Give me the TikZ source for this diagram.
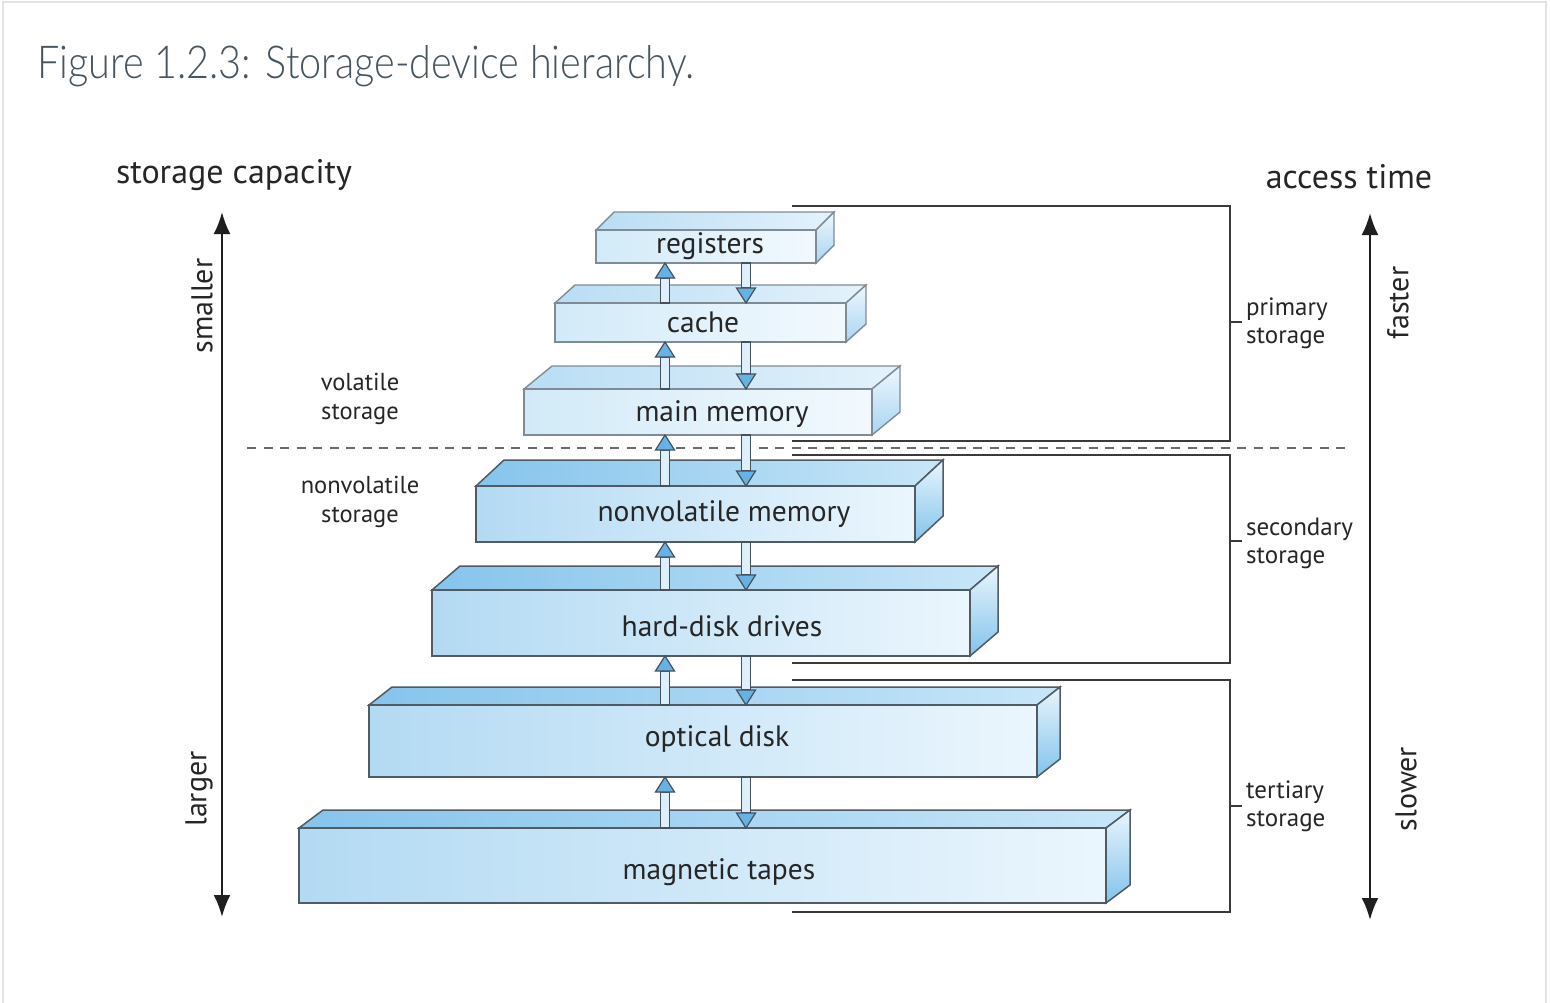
\documentclass[tikz,border=0pt]{standalone}
\usepackage{fontspec}
\setmainfont{PT Sans}
\newfontfamily\titlefont{Lato Light}
\usepackage{graphicx}
\usetikzlibrary{arrows.meta,calc}

\definecolor{txt}{HTML}{262626}
\definecolor{titlecol}{HTML}{46555F}
\definecolor{framecol}{HTML}{E4E4E4}
\definecolor{brk}{HTML}{3A3A3A}
\definecolor{dashcol}{HTML}{6A6A6A}
\definecolor{edgeL}{HTML}{7F8C95}
\definecolor{edgeD}{HTML}{505B63}
\definecolor{lfL}{HTML}{D2EAF8}
\definecolor{lfR}{HTML}{F2F9FE}
\definecolor{ltL}{HTML}{B9DDF4}
\definecolor{ltR}{HTML}{E4F2FB}
\definecolor{lsT}{HTML}{EEF7FD}
\definecolor{lsB}{HTML}{A8D5F2}
\definecolor{dfL}{HTML}{B3DAF3}
\definecolor{dfR}{HTML}{EBF6FD}
\definecolor{dtL}{HTML}{86C4EC}
\definecolor{dtR}{HTML}{C8E6F8}
\definecolor{dsT}{HTML}{E9F5FC}
\definecolor{dsB}{HTML}{82C3EC}
\definecolor{shaftcol}{HTML}{DDEFFA}
\definecolor{headcol}{HTML}{66B2E4}
\definecolor{arrline}{HTML}{46525B}

\tikzset{
  lightfront/.style={draw=edgeL, line width=1.4pt, left color=lfL, right color=lfR},
  lighttop/.style={draw=edgeL, line width=1.4pt, left color=ltL, right color=ltR},
  lightside/.style={draw=edgeL, line width=1.4pt, top color=lsT, bottom color=lsB},
  darkfront/.style={draw=edgeD, line width=1.5pt, left color=dfL, right color=dfR},
  darktop/.style={draw=edgeD, line width=1.5pt, left color=dtL, right color=dtR},
  darkside/.style={draw=edgeD, line width=1.5pt, top color=dsT, bottom color=dsB},
  boxtext/.style={text=txt, font=\fontsize{29.5}{32}\selectfont, inner sep=0pt},
  smalltext/.style={text=txt, font=\fontsize{24.5}{29}\selectfont, inner sep=0pt, align=center},
  sidetext/.style={text=txt, font=\fontsize{25}{28}\selectfont, inner sep=0pt, align=left, anchor=west},
  headtext/.style={text=txt, font=\fontsize{34}{38}\selectfont, inner sep=0pt},
  axistext/.style={text=txt, font=\fontsize{30}{34}\selectfont, inner sep=0pt, rotate=90},
  bracket/.style={draw=brk, line width=2pt},
  axisarrow/.style={draw=black!88, line width=2.4pt, {Latex[length=22pt,width=17pt]}-{Latex[length=22pt,width=17pt]}},
  shaftst/.style={draw=arrline, line width=1.2pt, fill=shaftcol},
  headst/.style={draw=arrline, line width=1.2pt, fill=headcol},
}

% #1 style, #2 name, #3 x1, #4 y1, #5 x2, #6 y2, #7 dx, #8 dy
\newcommand{\tierbox}[8][light]{%
  \path[#1top] (#3,#4) -- (#3+#7,#4-#8) -- (#5+#7,#4-#8) -- (#5,#4) -- cycle;
  \path[#1side] (#5,#4) -- (#5+#7,#4-#8) -- (#5+#7,#6-#8) -- (#5,#6) -- cycle;
  \node[#1front, anchor=north west, inner sep=0pt, outer sep=0pt,
        minimum width={(#5-#3)*1pt}, minimum height={(#6-#4)*1pt}] (#2) at (#3,#4) {};
}
\newcommand{\uparr}[2]{%
  \path[shaftst] let \p1=#1, \p2=#2 in (\x1-4.5pt,\y1) rectangle (\x1+4.5pt,\y2-15pt);
  \path[headst] let \p1=#1, \p2=#2 in (\x1-9.5pt,\y2-15pt) -- (\x1,\y2) -- (\x1+9.5pt,\y2-15pt) -- cycle;
}
\newcommand{\dnarr}[2]{%
  \path[shaftst] let \p1=#1, \p2=#2 in (\x1-4.5pt,\y1) rectangle (\x1+4.5pt,\y2+15pt);
  \path[headst] let \p1=#1, \p2=#2 in (\x1-9.5pt,\y2+15pt) -- (\x1,\y2) -- (\x1+9.5pt,\y2+15pt) -- cycle;
}

\begin{document}
\begin{tikzpicture}[x=1pt,y=-1pt]
\useasboundingbox (0,0) rectangle (1550,1002);
\fill[white] (0,0) rectangle (1550,1002);
\draw[framecol, line width=2pt] (3,1010) -- (3,2) -- (1546,2) -- (1546,1010);

% title
\node[anchor=base west, inner sep=0pt, text=titlecol] (title) at (37,78)
  {\resizebox{657pt}{33pt}{\titlefont Figure 1.2.3: Storage-device hierarchy.}};

% headers
\node[headtext] (cap) at (234,175) {storage capacity};
\node[headtext] (acc) at (1349,177) {access time};

% axis arrows
\coordinate (la-t) at (222,212);
\coordinate (la-b) at (222,917);
\coordinate (ra-t) at (1370,213);
\coordinate (ra-b) at (1370,920);
\draw[axisarrow] (la-b) -- (la-t);
\draw[axisarrow] (ra-b) -- (ra-t);
\node[axistext] (sm) at (202,306) {smaller};
\node[axistext] (lg) at (199,789) {larger};
\node[axistext] (fa) at (1398,303) {faster};
\node[axistext] (sl) at (1406,789) {slower};

% dashed divider
\coordinate (dl) at (247,448);
\coordinate (dr) at (1345,448);
\draw[dashcol, line width=1.6pt, dash pattern=on 9pt off 7.5pt] (dl) -- (dr);

\node[smalltext] (vol) at (360,399) {volatile\\storage};
\node[smalltext] (nvol) at (360,502) {nonvolatile\\storage};

% brackets
\coordinate (b1a) at (792,206); \coordinate (b1b) at (792,441);
\coordinate (b2a) at (792,455); \coordinate (b2b) at (792,663);
\coordinate (b3a) at (792,680); \coordinate (b3b) at (792,912);
\draw[bracket] (b1a) -- (1230,206) -- (1230,441) -- (b1b);
\draw[bracket] (b2a) -- (1230,455) -- (1230,663) -- (b2b);
\draw[bracket] (b3a) -- (1230,680) -- (1230,912) -- (b3b);
\draw[bracket, line width=1.6pt] (1230,322) -- (1242,322);
\draw[bracket, line width=1.6pt] (1230,541) -- (1242,541);
\draw[bracket, line width=1.6pt] (1230,806) -- (1242,806);
\node[sidetext] (prim) at (1246,323) {primary\\storage};
\node[sidetext] (sec) at (1246,543) {secondary\\storage};
\node[sidetext] (ter) at (1246,806) {tertiary\\storage};

% boxes
\tierbox[light]{reg}{596}{230}{816}{263}{18}{18}
\tierbox[light]{cache}{555}{303}{846}{342}{20}{18}
\tierbox[light]{mm}{524}{389}{872}{435}{28}{23}
\tierbox[dark]{nvm}{476}{486}{915}{542}{28}{26}
\tierbox[dark]{hdd}{432}{590}{970}{656}{28}{24}
\tierbox[dark]{od}{369}{705}{1037}{777}{23}{18}
\tierbox[dark]{mt}{299}{828}{1106}{903}{24}{18}

\node[boxtext] at (710,246) {registers};
\node[boxtext] at (703,322) {cache};
\node[boxtext] at (722,414) {main memory};
\node[boxtext] at (724,514) {nonvolatile memory};
\node[boxtext] at (722,626) {hard-disk drives};
\node[boxtext] at (717,739) {optical disk};
\node[boxtext] at (719,872) {magnetic tapes};

% transfer arrows
\coordinate (ux) at (665,0);
\coordinate (dx) at (746,0);
\uparr{(ux |- cache.north)}{(ux |- reg.south)}
\dnarr{(dx |- reg.south)}{(dx |- cache.north)}
\uparr{(ux |- mm.north)}{(ux |- cache.south)}
\dnarr{(dx |- cache.south)}{(dx |- mm.north)}
\uparr{(ux |- nvm.north)}{(ux |- mm.south)}
\dnarr{(dx |- mm.south)}{(dx |- nvm.north)}
\uparr{(ux |- hdd.north)}{(ux |- nvm.south)}
\dnarr{(dx |- nvm.south)}{(dx |- hdd.north)}
\uparr{(ux |- od.north)}{(ux |- hdd.south)}
\dnarr{(dx |- hdd.south)}{(dx |- od.north)}
\uparr{(ux |- mt.north)}{(ux |- od.south)}
\dnarr{(dx |- od.south)}{(dx |- mt.north)}
\end{tikzpicture}
\end{document}
